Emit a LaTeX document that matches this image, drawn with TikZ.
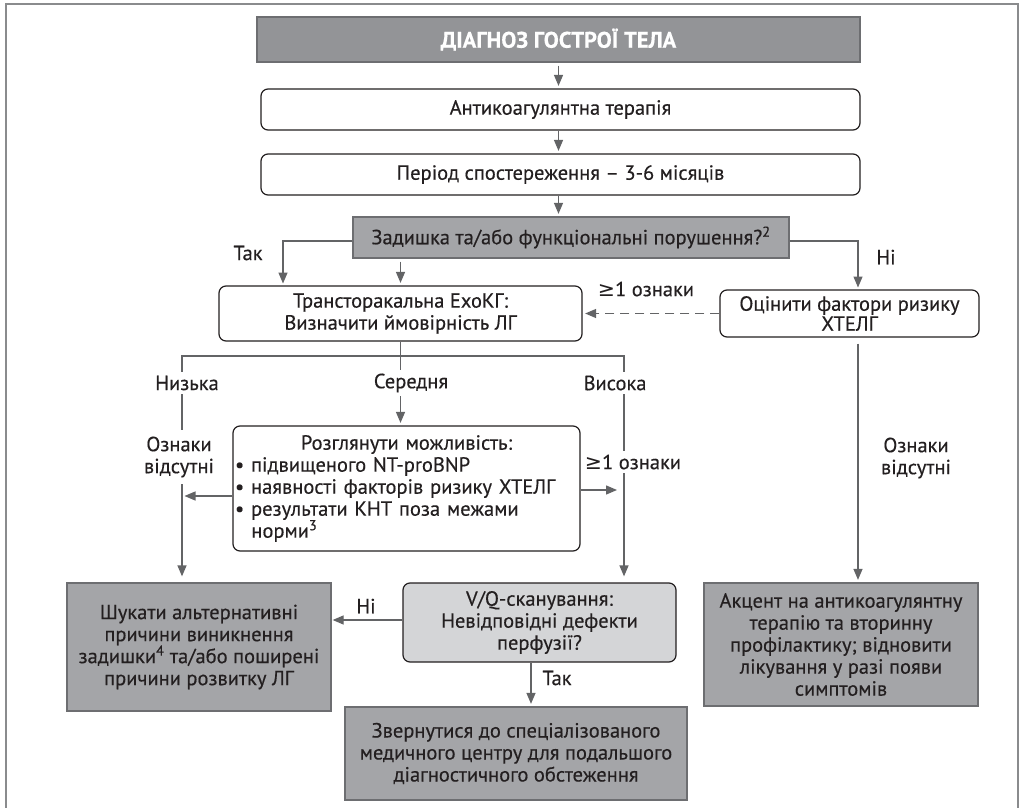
\documentclass[tikz,border=0pt]{standalone}
\usepackage{fontspec}
\setmainfont{PT Sans}[FakeBold=0.35]
\newfontfamily\symf{DejaVu Sans}
\usetikzlibrary{arrows.meta,calc}
\definecolor{frameclr}{HTML}{8A8B8D}
\definecolor{darkfill}{HTML}{939497}
\definecolor{midfill}{HTML}{A4A5A8}
\definecolor{lightfill}{HTML}{D4D5D7}
\definecolor{conn}{HTML}{636466}
\definecolor{gborder}{HTML}{6D6E71}
\definecolor{txt}{HTML}{231F20}
\begin{document}
\begin{tikzpicture}[x=1pt,y=-1pt,
  every node/.style={font=\fontsize{20.5}{22}\selectfont, text=txt},
  wbox/.style={draw=txt, line width=1.2pt, rounded corners=7pt, fill=white, align=center, inner sep=1pt},
  gbox/.style={draw=gborder, line width=1.3pt, fill=midfill, align=center, inner sep=1pt},
  conline/.style={draw=conn, line width=1.3pt},
  arr/.style={conline, -{Triangle[length=11pt,width=9pt]}, shorten >=2.5pt},
  lbl/.style={fill=white, inner xsep=1pt, inner ysep=4pt, align=center}
]
\useasboundingbox (0,0) rectangle (1029,808);
\draw[frameclr, line width=1.7pt] (6,815) -- (6,4) -- (1018,4) -- (1018,815);

% boxes
\node[gbox, fill=darkfill, draw=gborder, minimum width=603pt, minimum height=45pt, text=white,
      font=\bfseries\fontsize{22.5}{24}\selectfont] (title) at (558.5,39.5) {ДІАГНОЗ ГОСТРОЇ ТЕЛА};
\node[wbox, minimum width=599pt, minimum height=41pt] (b2) at (560.5,109.5) {Антикоагулянтна терапія};
\node[wbox, minimum width=599pt, minimum height=41pt] (b3) at (560.5,174.5) {Період спостереження – 3-6 місяців};
\node[gbox, minimum width=436pt, minimum height=41pt] (q) at (571,237.5) {Задишка та/або функціональні порушення?\textsuperscript{2}};
\node[wbox, minimum width=363pt, minimum height=55pt] (tr) at (400.5,313.5) {Трансторакальна ЕхоКГ:\\Визначити ймовірність ЛГ};
\node[wbox, minimum width=259pt, minimum height=47pt, font=\fontsize{20.5}{20}\selectfont] (oc) at (849.5,313.5) {Оцінити фактори ризику\\ХТЕЛГ};
\node[wbox, minimum width=347pt, minimum height=125pt, text width=343pt, inner xsep=2pt, align=left] (rz) at (406.5,488.5)
  {\makebox[343pt]{Розглянути можливість:}\\
   • підвищеного NT-proBNP\\
   • наявності факторів ризику ХТЕЛГ\\
   • результати КНТ поза межами\\
   \hspace*{0.8em}норми\textsuperscript{3}};
\node[gbox, minimum width=264pt, minimum height=128pt] (sh) at (199,647)
  {Шукати альтернативні\\причини виникнення\\задишки\textsuperscript{4} та/або поширені\\причини розвитку ЛГ};
\node[wbox, fill=lightfill, minimum width=273pt, minimum height=79pt] (vq) at (539.5,622.5)
  {V/Q-сканування:\\Невідповідні дефекти\\перфузії?};
\node[gbox, minimum width=342pt, minimum height=93pt] (zv) at (516,753.5)
  {Звернутися до спеціалізованого\\медичного центру для подальшого\\діагностичного обстеження};
\node[gbox, minimum width=274pt, minimum height=123pt] (ak) at (841,644.5)
  {Акцент на антикоагулянтну\\терапію та вторинну\\профілактику; відновити\\лікування у разі появи\\симптомів};

% top chain
\draw[arr, shorten <=3pt] (title.south -| title.south) -- (b2.north -| title.south);
\draw[arr] (b2.south -| title.south) -- (b3.north -| title.south);
\draw[arr] (b3.south -| title.south) -- (q.north -| title.south);

% question branches
\coordinate (tL) at (283,286);
\coordinate (tR) at (858,290);
\draw[arr] ($(q.west)+(0,3.5)$) -| (tL);
\draw[arr, shorten <=3pt] (q.south -| tr.north) -- (tr.north);
\draw[arr] ($(q.east)+(0,3.5)$) -| (tR);
\node (lyes) at (248,253) {Так};
\node (lno) at (886,257) {Ні};

% dashed
\draw[arr, dash pattern=on 9pt off 6pt] (oc.west) -- (tr.east);
\node (lge1) at (646,289) {{\symf ≥}1 ознаки};

% echo branches
\coordinate (hL) at (182,356);
\coordinate (hR) at (624,356);
\draw[conline] (tr.south) -- (tr.south |- hL);
\draw[arr, shorten >=6pt] (hR) -| (hL |- sh.north);
\draw[arr, shorten >=6pt] (hL) -| (hR |- vq.north);
\draw[arr] (tr.south |- hL) -- (rz.north -| tr.south);
\node[lbl] (lnz) at (187,383) {Низька};
\node[lbl] (lser) at (411,383) {Середня};
\node[lbl] (lvys) at (615,383) {Висока};
\node[lbl, inner ysep=7pt] (labs1) at (179,457) {Ознаки\\відсутні};
\node[lbl] (lge2) at (633,462) {{\symf ≥}1 ознаки};

% rz side arrows
\coordinate (rzl) at ($(rz.west)+(0,7.5)$);
\coordinate (rzr) at ($(rz.east)+(0,1.5)$);
\draw[arr] (rzl) -- (rzl -| hL);
\draw[arr, shorten >=7pt] (rzr) -- (rzr -| hR);

% vq outputs
\coordinate (vql) at ($(vq.west)+(0,-2.5)$);
\draw[arr, shorten >=1pt] (vql) -- (vql -| sh.east);
\node (lno2) at (366,606) {Ні};
\coordinate (vqs) at ($(vq.south)+(-8.5,0)$);
\draw[arr] (vqs) -- (vqs |- zv.north);
\node (lyes2) at (557,678) {Так};

% right branch
\draw[arr] ($(oc.south -| tR)+(0,6)$) -- (tR |- ak.north);
\node[align=center] (labs2) at (916,458) {Ознаки\\відсутні};
\end{tikzpicture}
\end{document}
